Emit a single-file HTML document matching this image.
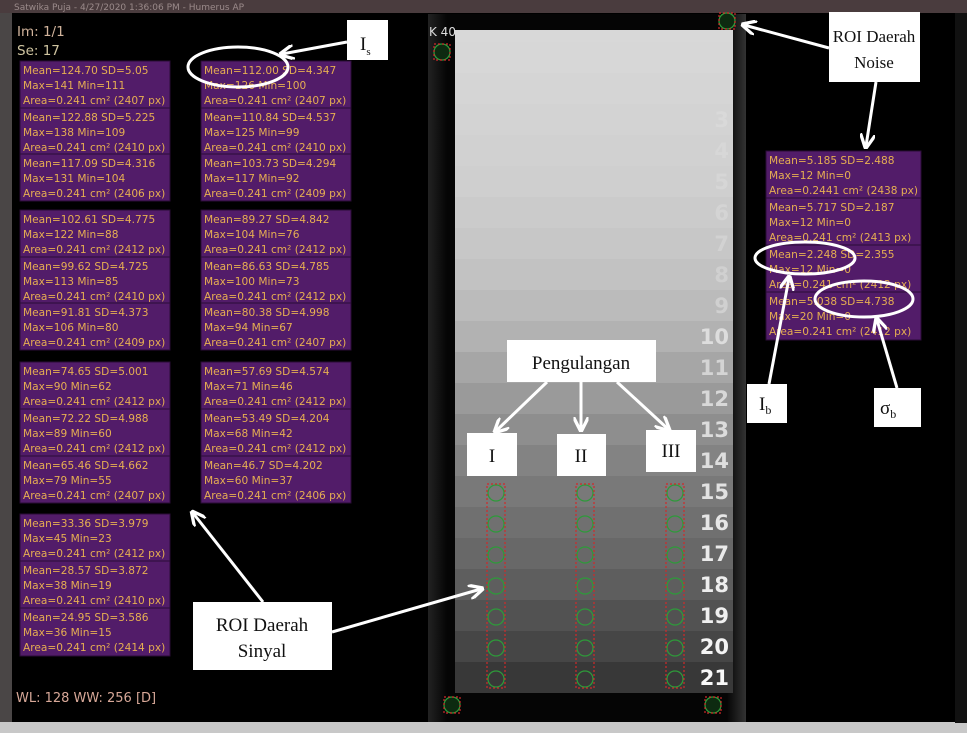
<!DOCTYPE html>
<html><head><meta charset="utf-8"><style>
html,body{margin:0;padding:0;background:#000;}
svg{display:block;}
.m{font-family:"DejaVu Sans",sans-serif;font-size:10.6px;fill:#e6ae52;}
.t{font-family:"Liberation Serif",serif;fill:#111;}
</style></head><body>
<svg width="967" height="733" viewBox="0 0 967 733" xmlns="http://www.w3.org/2000/svg">
<defs>
<marker id="ah" viewBox="0 0 10 10" refX="8" refY="5" markerWidth="5" markerHeight="5" orient="auto"><path d="M0,0 L10,5 L0,10" fill="none" stroke="#fff" stroke-width="2.2"/></marker>
<linearGradient id="fr" x1="0" x2="1"><stop offset="0" stop-color="#222"/><stop offset="0.06" stop-color="#050505"/><stop offset="0.94" stop-color="#050505"/><stop offset="1" stop-color="#333"/></linearGradient>
</defs>
<rect width="967" height="733" fill="#000"/>
<rect x="0" y="0" width="967" height="13" fill="#4a3c3e"/>
<text x="14" y="10" style="font-family:'DejaVu Sans',sans-serif;font-size:9px;fill:#9a8a8a">Satwika Puja - 4/27/2020 1:36:06 PM - Humerus AP</text>
<rect x="0" y="13" width="12" height="720" fill="#4a4646"/>
<rect x="0" y="722" width="967" height="11" fill="#c8c8c8"/>
<rect x="955" y="13" width="12" height="710" fill="#111"/>
<text x="17" y="36" style="font-family:'DejaVu Sans',sans-serif;font-size:13.5px;fill:#d2b49c">Im: 1/1</text>
<text x="17" y="55" style="font-family:'DejaVu Sans',sans-serif;font-size:13.5px;fill:#cfc4a0">Se: 17</text>
<text x="16" y="702" style="font-family:'DejaVu Sans',sans-serif;font-size:13px;fill:#d8a898">WL: 128 WW: 256 [D]</text>

<rect x="428" y="14" width="318" height="708" fill="url(#fr)"/>
<rect x="455" y="30" width="278" height="12" fill="#d8d8d8"/>
<g>
<rect x="455" y="42" width="278" height="32" fill="#d7d7d7"/>
<rect x="455" y="73" width="278" height="32" fill="#d5d5d5"/>
<rect x="455" y="104" width="278" height="32" fill="#d3d3d3"/>
<rect x="455" y="135" width="278" height="32" fill="#d1d1d1"/>
<rect x="455" y="166" width="278" height="32" fill="#cfcfcf"/>
<rect x="455" y="197" width="278" height="32" fill="#cbcbcb"/>
<rect x="455" y="228" width="278" height="32" fill="#c7c7c7"/>
<rect x="455" y="259" width="278" height="32" fill="#c2c2c2"/>
<rect x="455" y="290" width="278" height="32" fill="#bbbbbb"/>
<rect x="455" y="321" width="278" height="32" fill="#b2b2b2"/>
<rect x="455" y="352" width="278" height="32" fill="#a6a6a6"/>
<rect x="455" y="383" width="278" height="32" fill="#9a9a9a"/>
<rect x="455" y="414" width="278" height="32" fill="#8e8e8e"/>
<rect x="455" y="445" width="278" height="32" fill="#838383"/>
<rect x="455" y="476" width="278" height="32" fill="#797979"/>
<rect x="455" y="507" width="278" height="32" fill="#707070"/>
<rect x="455" y="538" width="278" height="32" fill="#686868"/>
<rect x="455" y="569" width="278" height="32" fill="#5e5e5e"/>
<rect x="455" y="600" width="278" height="32" fill="#525252"/>
<rect x="455" y="631" width="278" height="32" fill="#464646"/>
<rect x="455" y="662" width="278" height="31" fill="#383838"/>
</g>
<g style="font-family:'DejaVu Sans',sans-serif;font-weight:bold;font-size:21px" text-anchor="end">
<text x="729" y="127" fill="#d9d9d9">3</text>
<text x="729" y="158" fill="#d7d7d7">4</text>
<text x="729" y="189" fill="#d6d6d6">5</text>
<text x="729" y="220" fill="#d4d4d4">6</text>
<text x="729" y="251" fill="#d2d2d2">7</text>
<text x="729" y="282" fill="#d0d0d0">8</text>
<text x="729" y="313" fill="#d0d0d0">9</text>
<text x="729" y="344" fill="#dddddd">10</text>
<text x="729" y="375" fill="#d4d4d4">11</text>
<text x="729" y="406" fill="#d8d8d8">12</text>
<text x="729" y="437" fill="#dcdcdc">13</text>
<text x="729" y="468" fill="#dedede">14</text>
<text x="729" y="499" fill="#e2e2e2">15</text>
<text x="729" y="530" fill="#e6e6e6">16</text>
<text x="729" y="561" fill="#eaeaea">17</text>
<text x="729" y="592" fill="#eeeeee">18</text>
<text x="729" y="623" fill="#f0f0f0">19</text>
<text x="729" y="654" fill="#f4f4f4">20</text>
<text x="729" y="685" fill="#f8f8f8">21</text>
</g>
<text x="429" y="36" style="font-family:'DejaVu Sans',sans-serif;font-size:12px;fill:#ddd">K 40</text>
<g fill="none" stroke="#2e9a3a" stroke-width="1.3">
<circle cx="442" cy="52" r="8" fill="#0d2a10"/><circle cx="727" cy="21" r="8" fill="#0d2a10"/>
<circle cx="452" cy="705" r="8" fill="#0d2a10"/><circle cx="713" cy="705" r="8" fill="#0d2a10"/>
<circle cx="496" cy="493" r="8"/><circle cx="585" cy="493" r="8"/><circle cx="675" cy="493" r="8"/>
<circle cx="496" cy="524" r="8"/><circle cx="585" cy="524" r="8"/><circle cx="675" cy="524" r="8"/>
<circle cx="496" cy="555" r="8"/><circle cx="585" cy="555" r="8"/><circle cx="675" cy="555" r="8"/>
<circle cx="496" cy="586" r="8"/><circle cx="585" cy="586" r="8"/><circle cx="675" cy="586" r="8"/>
<circle cx="496" cy="617" r="8"/><circle cx="585" cy="617" r="8"/><circle cx="675" cy="617" r="8"/>
<circle cx="496" cy="648" r="8"/><circle cx="585" cy="648" r="8"/><circle cx="675" cy="648" r="8"/>
<circle cx="496" cy="679" r="8"/><circle cx="585" cy="679" r="8"/><circle cx="675" cy="679" r="8"/>
</g>
<g stroke="#d02a2a" stroke-width="1.2" stroke-dasharray="2,2" fill="none">
<rect x="487" y="484" width="18" height="204"/><rect x="576" y="484" width="18" height="204"/><rect x="666" y="484" width="18" height="204"/>
<rect x="434" y="44" width="16" height="16"/><rect x="719" y="13" width="16" height="16"/>
<rect x="444" y="697" width="16" height="16"/><rect x="705" y="697" width="16" height="16"/>
</g>

<g fill="#521c69" stroke="#2a0d36" stroke-width="1">
<rect x="20" y="61" width="150" height="47"/><rect x="20" y="108" width="150" height="46"/><rect x="20" y="154" width="150" height="47"/>
<rect x="20" y="210" width="150" height="47"/><rect x="20" y="257" width="150" height="46"/><rect x="20" y="303" width="150" height="47"/>
<rect x="20" y="362" width="150" height="47"/><rect x="20" y="409" width="150" height="47"/><rect x="20" y="456" width="150" height="47"/>
<rect x="20" y="514" width="150" height="47"/><rect x="20" y="561" width="150" height="47"/><rect x="20" y="608" width="150" height="48"/>
<rect x="201" y="61" width="150" height="47"/><rect x="201" y="108" width="150" height="46"/><rect x="201" y="154" width="150" height="47"/>
<rect x="201" y="210" width="150" height="47"/><rect x="201" y="257" width="150" height="46"/><rect x="201" y="303" width="150" height="47"/>
<rect x="201" y="362" width="150" height="47"/><rect x="201" y="409" width="150" height="47"/><rect x="201" y="456" width="150" height="47"/>
<rect x="766" y="151" width="155" height="47"/><rect x="766" y="198" width="155" height="47"/><rect x="766" y="245" width="155" height="47"/><rect x="766" y="292" width="155" height="48"/>
</g>
<g class="m">
<text x="23" y="74">Mean=124.70 SD=5.05</text><text x="23" y="89">Max=141 Min=111</text><text x="23" y="104">Area=0.241 cm² (2407 px)</text>
<text x="23" y="121">Mean=122.88 SD=5.225</text><text x="23" y="136">Max=138 Min=109</text><text x="23" y="151">Area=0.241 cm² (2410 px)</text>
<text x="23" y="167">Mean=117.09 SD=4.316</text><text x="23" y="182">Max=131 Min=104</text><text x="23" y="197">Area=0.241 cm² (2406 px)</text>
<text x="23" y="223">Mean=102.61 SD=4.775</text><text x="23" y="238">Max=122 Min=88</text><text x="23" y="253">Area=0.241 cm² (2412 px)</text>
<text x="23" y="270">Mean=99.62 SD=4.725</text><text x="23" y="285">Max=113 Min=85</text><text x="23" y="300">Area=0.241 cm² (2410 px)</text>
<text x="23" y="316">Mean=91.81 SD=4.373</text><text x="23" y="331">Max=106 Min=80</text><text x="23" y="346">Area=0.241 cm² (2409 px)</text>
<text x="23" y="375">Mean=74.65 SD=5.001</text><text x="23" y="390">Max=90 Min=62</text><text x="23" y="405">Area=0.241 cm² (2412 px)</text>
<text x="23" y="422">Mean=72.22 SD=4.988</text><text x="23" y="437">Max=89 Min=60</text><text x="23" y="452">Area=0.241 cm² (2412 px)</text>
<text x="23" y="469">Mean=65.46 SD=4.662</text><text x="23" y="484">Max=79 Min=55</text><text x="23" y="499">Area=0.241 cm² (2407 px)</text>
<text x="23" y="527">Mean=33.36 SD=3.979</text><text x="23" y="542">Max=45 Min=23</text><text x="23" y="557">Area=0.241 cm² (2412 px)</text>
<text x="23" y="574">Mean=28.57 SD=3.872</text><text x="23" y="589">Max=38 Min=19</text><text x="23" y="604">Area=0.241 cm² (2410 px)</text>
<text x="23" y="621">Mean=24.95 SD=3.586</text><text x="23" y="636">Max=36 Min=15</text><text x="23" y="651">Area=0.241 cm² (2414 px)</text>

<text x="204" y="74">Mean=112.00 SD=4.347</text><text x="204" y="89">Max=126 Min=100</text><text x="204" y="104">Area=0.241 cm² (2407 px)</text>
<text x="204" y="121">Mean=110.84 SD=4.537</text><text x="204" y="136">Max=125 Min=99</text><text x="204" y="151">Area=0.241 cm² (2410 px)</text>
<text x="204" y="167">Mean=103.73 SD=4.294</text><text x="204" y="182">Max=117 Min=92</text><text x="204" y="197">Area=0.241 cm² (2409 px)</text>
<text x="204" y="223">Mean=89.27 SD=4.842</text><text x="204" y="238">Max=104 Min=76</text><text x="204" y="253">Area=0.241 cm² (2412 px)</text>
<text x="204" y="270">Mean=86.63 SD=4.785</text><text x="204" y="285">Max=100 Min=73</text><text x="204" y="300">Area=0.241 cm² (2412 px)</text>
<text x="204" y="316">Mean=80.38 SD=4.998</text><text x="204" y="331">Max=94 Min=67</text><text x="204" y="346">Area=0.241 cm² (2407 px)</text>
<text x="204" y="375">Mean=57.69 SD=4.574</text><text x="204" y="390">Max=71 Min=46</text><text x="204" y="405">Area=0.241 cm² (2412 px)</text>
<text x="204" y="422">Mean=53.49 SD=4.204</text><text x="204" y="437">Max=68 Min=42</text><text x="204" y="452">Area=0.241 cm² (2412 px)</text>
<text x="204" y="469">Mean=46.7 SD=4.202</text><text x="204" y="484">Max=60 Min=37</text><text x="204" y="499">Area=0.241 cm² (2406 px)</text>

<text x="769" y="164">Mean=5.185 SD=2.488</text><text x="769" y="179">Max=12 Min=0</text><text x="769" y="194">Area=0.2441 cm² (2438 px)</text>
<text x="769" y="211">Mean=5.717 SD=2.187</text><text x="769" y="226">Max=12 Min=0</text><text x="769" y="241">Area=0.241 cm² (2413 px)</text>
<text x="769" y="258">Mean=2.248 SD=2.355</text><text x="769" y="273">Max=12 Min=0</text><text x="769" y="288">Area=0.241 cm² (2412 px)</text>
<text x="769" y="305">Mean=5.038 SD=4.738</text><text x="769" y="320">Max=20 Min=0</text><text x="769" y="335">Area=0.241 cm² (2412 px)</text>
</g>

<g fill="none" stroke="#fff" stroke-width="3">
<ellipse cx="238" cy="67" rx="50" ry="20"/>
<ellipse cx="805" cy="258" rx="50" ry="16"/>
<ellipse cx="864" cy="299" rx="49" ry="18"/>
</g>
<g stroke="#fff" stroke-width="3" fill="none" marker-end="url(#ah)">
<line x1="347" y1="42" x2="282" y2="54"/>
<line x1="829" y1="48" x2="744" y2="25"/>
<line x1="876" y1="82" x2="866" y2="146"/>
<line x1="769" y1="384" x2="789" y2="278"/>
<line x1="897" y1="388" x2="877" y2="320"/>
<line x1="547" y1="382" x2="496" y2="431"/>
<line x1="581" y1="382" x2="581" y2="429"/>
<line x1="617" y1="382" x2="668" y2="429"/>
<line x1="263" y1="602" x2="193" y2="513"/>
<line x1="332" y1="632" x2="481" y2="589"/>
</g>

<g fill="#fff">
<rect x="347" y="20" width="41" height="40"/>
<rect x="829" y="12" width="91" height="70"/>
<rect x="507" y="340" width="149" height="42"/>
<rect x="467" y="433" width="50" height="43"/>
<rect x="557" y="434" width="49" height="42"/>
<rect x="646" y="430" width="50" height="42"/>
<rect x="747" y="384" width="40" height="39"/>
<rect x="874" y="388" width="47" height="39"/>
<rect x="193" y="602" width="139" height="68"/>
</g>
<g class="t" font-size="19">
<text x="360" y="50">I<tspan font-size="11" dy="5">s</tspan></text>
<text x="874" y="42" text-anchor="middle" font-size="17">ROI Daerah</text>
<text x="874" y="68" text-anchor="middle" font-size="17">Noise</text>
<text x="581" y="369" text-anchor="middle">Pengulangan</text>
<text x="492" y="462" text-anchor="middle">I</text>
<text x="581" y="462" text-anchor="middle">II</text>
<text x="671" y="457" text-anchor="middle">III</text>
<text x="759" y="410">I<tspan font-size="12" dy="4">b</tspan></text>
<text x="880" y="414">σ<tspan font-size="12" dy="4">b</tspan></text>
<text x="262" y="631" text-anchor="middle">ROI Daerah</text>
<text x="262" y="657" text-anchor="middle">Sinyal</text>
</g>
</svg>
</body></html>
